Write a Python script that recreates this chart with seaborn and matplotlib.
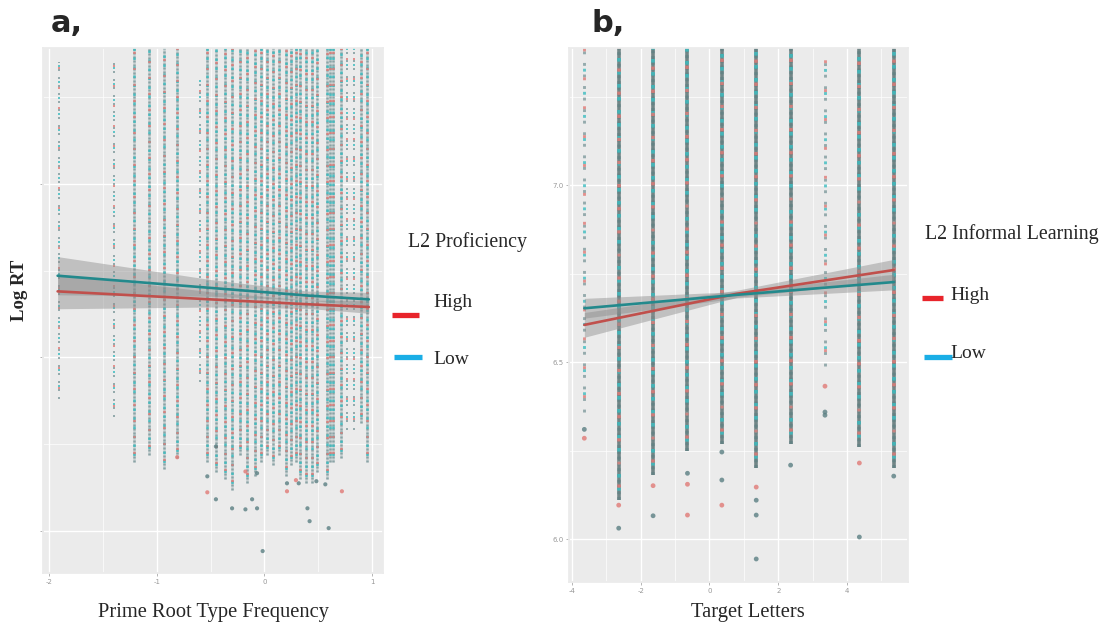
import numpy as np
import pandas as pd
import matplotlib
matplotlib.use("Agg")
import matplotlib.pyplot as plt
import seaborn as sns

# ---------------- data ----------------
# Panel a: columns of points (x position, top and bottom of the dense stripe)
a_cols_x = [-1.91, -1.40, -1.21, -1.07, -0.935, -0.81, -0.60, -0.53, -0.45, -0.37,
            -0.30, -0.23, -0.16, -0.09, -0.03, 0.02, 0.08, 0.14, 0.20, 0.25,
            0.29, 0.33, 0.39, 0.44, 0.49, 0.58, 0.61, 0.64, 0.71, 0.77,
            0.83, 0.90, 0.95]
a_cols_top = [7.35, 7.36, 7.39, 7.39, 7.39, 7.39, 7.30, 7.39, 7.39, 7.39,
              7.39, 7.39, 7.39, 7.39, 7.39, 7.39, 7.39, 7.39, 7.39, 7.39,
              7.39, 7.39, 7.39, 7.39, 7.39, 7.39, 7.39, 7.39, 7.39, 7.39,
              7.39, 7.39, 7.39]
a_cols_bottom = [6.38, 6.33, 6.20, 6.22, 6.18, 6.21, 6.43, 6.20, 6.17, 6.15,
                 6.12, 6.22, 6.14, 6.16, 6.20, 6.22, 6.19, 6.22, 6.16, 6.19,
                 6.20, 6.15, 6.14, 6.14, 6.17, 6.15, 6.20, 6.20, 6.21, 6.29,
                 6.29, 6.31, 6.20]
a_sparse = [1, 1, 0, 0, 0, 0, 1, 0, 0, 0,
            0, 0, 0, 0, 0, 0, 0, 0, 0, 0,
            0, 0, 0, 0, 0, 0, 0, 0, 0, 1,
            1, 0, 0]
# isolated points below the stripes
a_out_x = [-0.53, -0.53, -0.45, -0.30, -0.176, -0.068, -0.114, -0.016, -0.176, -0.068,
           0.21, 0.21, 0.319, 0.40, 0.42, 0.483, 0.597, 0.72, 0.566, 0.293, -0.45, -0.81]
a_out_y = [6.158, 6.112, 6.092, 6.066, 6.063, 6.066, 6.092, 5.943, 6.172, 6.167,
           6.115, 6.138, 6.138, 6.066, 6.029, 6.144, 6.009, 6.115, 6.135, 6.147, 6.244, 6.213]
a_out_grp = ["Low", "High", "Low", "Low", "Low", "Low", "Low", "Low", "High", "Low",
             "High", "Low", "Low", "Low", "Low", "Low", "Low", "High", "Low", "High", "Low", "High"]

# Panel a regression lines (x, fitted value, CI half width)
a_fit_x = [-1.92, -0.50, 0.40, 0.97]
a_high_y = [6.690, 6.667, 6.653, 6.645]
a_low_y = [6.735, 6.700, 6.678, 6.667]
a_high_ci = [0.050, 0.022, 0.012, 0.018]
a_low_ci = [0.055, 0.024, 0.013, 0.020]

# Panel b: 10 columns
b_cols_x = [-3.64, -2.64, -1.64, -0.64, 0.36, 1.36, 2.36, 3.36, 4.36, 5.36]
b_cols_top = [7.39, 7.39, 7.39, 7.39, 7.39, 7.39, 7.39, 7.37, 7.39, 7.39]
b_cols_bottom = [6.36, 6.11, 6.18, 6.25, 6.27, 6.20, 6.27, 6.49, 6.26, 6.20]
b_sparse = [1, 0, 0, 0, 0, 0, 0, 1, 0, 0]
b_out_x = [-3.64, -3.64, -2.64, -2.64, -1.64, -1.64, -0.64, -0.64, -0.64, 0.36,
           0.36, 0.36, 1.36, 1.36, 1.36, 1.36, 2.36, 3.36, 3.36, 3.36, 4.36, 4.36, 5.36]
b_out_y = [6.31, 6.285, 6.096, 6.031, 6.151, 6.066, 6.186, 6.155, 6.068, 6.246,
           6.167, 6.096, 6.147, 6.11, 6.068, 5.944, 6.209, 6.432, 6.359, 6.35, 6.215, 6.006, 6.178]
b_out_grp = ["Low", "High", "High", "Low", "High", "Low", "Low", "High", "High", "Low",
             "Low", "High", "High", "Low", "Low", "Low", "Low", "High", "Low", "Low", "High", "Low", "Low"]

b_fit_x = [-3.64, 0.80, 5.36]
b_high_y = [6.605, 6.693, 6.760]
b_low_y = [6.652, 6.690, 6.726]
b_high_ci = [0.035, 0.010, 0.030]
b_low_ci = [0.028, 0.009, 0.022]

# ---------------- style ----------------
sns.set_theme(style="darkgrid", rc={
    "axes.facecolor": "#ebebeb",
    "grid.color": "white",
    "axes.edgecolor": "#ebebeb",
})
plt.rcParams["font.family"] = ["Liberation Serif", "DejaVu Serif"]

RED_PT = "#e07a76"
TEAL_PT = "#3cbcc0"
GREY_PT = "#5a7f82"
DARK_PT = "#4a6466"
RED_LN = "#c0504c"
TEAL_LN = "#23898c"
band = "#8c8c8c"

fig = plt.figure(figsize=(11.08, 6.30), dpi=100)
axA = fig.add_axes([0.0388, 0.0905, 0.3069, 0.8333])
axB = fig.add_axes([0.5135, 0.0762, 0.3060, 0.8476])


def draw_stripes(ax, xs, tops, bottoms, sparse, lw, base_color, base_alpha):
    for x, t, b, s in zip(xs, tops, bottoms, sparse):
        if s:
            ax.vlines(x, b, t, color=GREY_PT, lw=lw * 0.8, linestyles=[(0, (1.0, 3.0))], alpha=0.6, zorder=2)
            ax.vlines(x, b, t, color=TEAL_PT, lw=lw * 0.8, linestyles=[(2, (1.0, 7.0))], alpha=0.8, zorder=2)
            ax.vlines(x, b, t, color=RED_PT, lw=lw * 0.8, linestyles=[(5, (1.0, 9.0))], alpha=0.8, zorder=2)
        else:
            ax.vlines(x, b, t, color=base_color, lw=lw, alpha=base_alpha, zorder=2)
            ax.vlines(x, b, t, color=GREY_PT, lw=lw, linestyles=[(0, (0.8, 0.8))], alpha=0.55, zorder=2)
            ax.vlines(x, b, t, color=TEAL_PT, lw=lw, linestyles=[(1, (1.0, 2.6))], alpha=0.85, zorder=2)
            ax.vlines(x, b, t, color=RED_PT, lw=lw, linestyles=[(3, (0.9, 5.5))], alpha=0.85, zorder=2)


def draw_fit(ax, fx, hy, ly, hci, lci):
    hy, ly, hci, lci = map(np.asarray, (hy, ly, hci, lci))
    ax.fill_between(fx, hy - hci, hy + hci, color=band, alpha=0.45, lw=0, zorder=3)
    ax.fill_between(fx, ly - lci, ly + lci, color=band, alpha=0.45, lw=0, zorder=3)
    df = pd.DataFrame({"x": list(fx) * 2, "y": list(hy) + list(ly),
                       "grp": ["High"] * len(fx) + ["Low"] * len(fx)})
    sns.lineplot(data=df, x="x", y="y", hue="grp", palette={"High": RED_LN, "Low": TEAL_LN},
                 lw=1.9, ax=ax, legend=False, zorder=4, estimator=None, sort=False)


# Panel a
draw_stripes(axA, a_cols_x, a_cols_top, a_cols_bottom, a_sparse, 1.8, GREY_PT, 0.25)
sns.scatterplot(x=a_out_x, y=a_out_y, hue=a_out_grp, palette={"High": RED_PT, "Low": GREY_PT},
                s=9, linewidth=0, alpha=0.8, ax=axA, legend=False, zorder=2)
draw_fit(axA, a_fit_x, a_high_y, a_low_y, a_high_ci, a_low_ci)
axA.set_xlim(-2.056, 1.102)
axA.set_ylim(5.88, 7.39)
axA.set_xticks([-2, -1, 0, 1])
axA.set_xticklabels(["-2", "-1", "0", "1"])
axA.set_xticks([-1.5, -0.5, 0.5], minor=True)
axA.set_yticks([6.0, 6.5, 7.0])
axA.set_yticklabels([])
axA.set_yticks([6.25, 6.75, 7.25], minor=True)

# Panel b
draw_stripes(axB, b_cols_x, b_cols_top, b_cols_bottom, b_sparse, 2.6, DARK_PT, 0.75)
sns.scatterplot(x=b_out_x, y=b_out_y, hue=b_out_grp, palette={"High": RED_PT, "Low": GREY_PT},
                s=12, linewidth=0, alpha=0.8, ax=axB, legend=False, zorder=2)
draw_fit(axB, b_fit_x, b_high_y, b_low_y, b_high_ci, b_low_ci)
axB.set_xlim(-4.087, 5.775)
axB.set_ylim(5.879, 7.387)
axB.set_xticks([-4, -2, 0, 2, 4])
axB.set_xticklabels(["-4", "-2", "0", "2", "4"])
axB.set_xticks([-3, -1, 1, 3, 5], minor=True)
axB.set_yticks([6.0, 6.5, 7.0])
axB.set_yticklabels(["6.0", "6.5", "7.0"])
axB.set_yticks([6.25, 6.75, 7.25], minor=True)

for ax in (axA, axB):
    ax.grid(True, which="major", color="white", lw=1.0)
    ax.grid(True, which="minor", color="white", lw=0.5)
    ax.tick_params(axis="both", which="major", labelsize=5, labelcolor="#999999",
                   color="#aaaaaa", length=2, width=0.6, pad=2, bottom=True, left=True)
    ax.tick_params(axis="both", which="minor", length=0)
    for lab in ax.get_xticklabels() + ax.get_yticklabels():
        lab.set_family("DejaVu Sans")
    ax.set_xlabel("")
    ax.set_ylabel("")

# axis titles
fig.text(213 / 1108, 1 - 613 / 630, "Prime Root Type Frequency", ha="center", va="center", fontsize=14.8)
fig.text(748 / 1108, 1 - 613 / 630, "Target Letters", ha="center", va="center", fontsize=14.8)
fig.text(19 / 1108, 1 - 290 / 630, "Log RT", ha="center", va="center", fontsize=13.5,
         fontweight="bold", rotation=90)

# panel letters
fig.text(51 / 1108, 1 - 24 / 630, "a,", ha="left", va="center", fontsize=22,
         fontweight="bold", family="DejaVu Sans")
fig.text(592 / 1108, 1 - 24 / 630, "b,", ha="left", va="center", fontsize=22,
         fontweight="bold", family="DejaVu Sans")

# legends (drawn as text + bars)
LEG_RED = "#e8242b"
LEG_BLUE = "#1aaee6"
fig.text(408 / 1108, 1 - 242 / 630, "L2 Proficiency", ha="left", va="center", fontsize=14.3)
fig.text(433 / 1108, 1 - 302 / 630, "High", ha="left", va="center", fontsize=14)
fig.text(433 / 1108, 1 - 360 / 630, "Low", ha="left", va="center", fontsize=14)
fig.add_artist(plt.Line2D([392 / 1108, 419 / 1108], [1 - 315 / 630] * 2, color=LEG_RED, lw=3.8,
                          solid_capstyle="butt"))
fig.add_artist(plt.Line2D([394 / 1108, 422 / 1108], [1 - 357 / 630] * 2, color=LEG_BLUE, lw=3.8,
                          solid_capstyle="butt"))

fig.text(925 / 1108, 1 - 234 / 630, "L2 Informal Learning", ha="left", va="center", fontsize=14.3)
fig.text(950 / 1108, 1 - 295 / 630, "High", ha="left", va="center", fontsize=14)
fig.text(950 / 1108, 1 - 354 / 630, "Low", ha="left", va="center", fontsize=14)
fig.add_artist(plt.Line2D([922 / 1108, 943 / 1108], [1 - 298 / 630] * 2, color=LEG_RED, lw=3.8,
                          solid_capstyle="butt"))
fig.add_artist(plt.Line2D([924 / 1108, 952 / 1108], [1 - 357 / 630] * 2, color=LEG_BLUE, lw=3.8,
                          solid_capstyle="butt"))

fig.savefig("out.png", dpi=100, facecolor="white")
